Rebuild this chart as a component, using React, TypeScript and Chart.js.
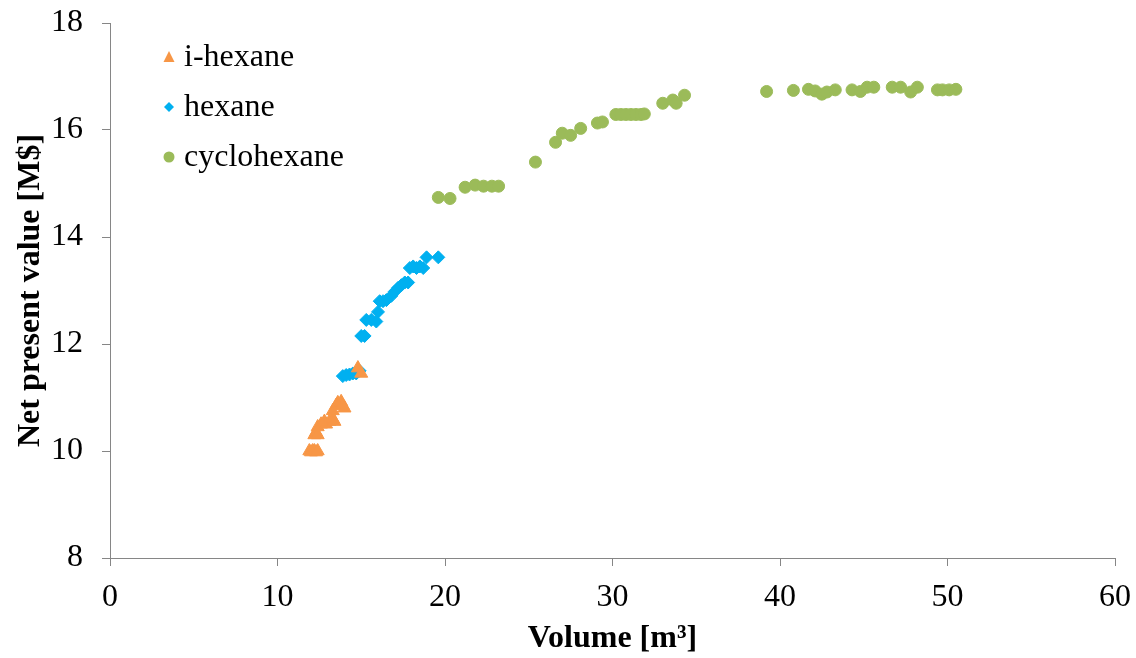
import React, { useEffect, useRef } from "react";
import { Chart, registerables } from "chart.js";

Chart.register(...registerables);

const seriesNames = ["i-hexane", "hexane", "cyclohexane"];
const seriesColors = ["#F79646", "#00B0F0", "#9BBB59"];

const iHexaneX = [11.9, 12.0, 12.1, 12.2, 12.3, 12.4, 12.2, 12.3, 12.4, 12.4, 12.6, 12.8, 12.9, 13.1, 13.3, 13.4, 13.3, 13.5, 13.6, 13.8, 13.9, 14.0, 14.8, 15.0];
const iHexaneY = [10.0, 9.98, 10.0, 10.0, 9.98, 10.0, 10.3, 10.35, 10.3, 10.45, 10.5, 10.55, 10.5, 10.55, 10.6, 10.55, 10.75, 10.85, 10.9, 10.92, 10.85, 10.8, 11.55, 11.45];

const hexaneX = [13.9, 14.1, 14.3, 14.5, 14.7, 14.9, 15.0, 15.2, 15.3, 15.6, 15.9, 16.0, 16.1, 16.3, 16.5, 16.8, 17.0, 17.2, 17.4, 17.6, 17.8, 17.9, 18.1, 18.3, 18.5, 18.7, 18.9, 19.6];
const hexaneY = [11.4, 11.42, 11.43, 11.45, 11.45, 11.5, 12.15, 12.15, 12.45, 12.45, 12.42, 12.6, 12.8, 12.8, 12.82, 12.9, 12.98, 13.05, 13.1, 13.15, 13.15, 13.42, 13.45, 13.42, 13.45, 13.42, 13.62, 13.62];

const cycloX = [19.6, 20.3, 21.2, 21.8, 22.3, 22.8, 23.2, 25.4, 26.6, 27.0, 27.5, 28.1, 29.1, 29.4, 30.2, 30.5, 30.8, 31.1, 31.4, 31.7, 31.9, 33.0, 33.6, 33.8, 34.3, 39.2, 40.8, 41.7, 42.1, 42.5, 42.8, 43.3, 44.3, 44.8, 45.2, 45.6, 46.7, 47.2, 47.8, 48.2, 49.4, 49.7, 50.1, 50.5];
const cycloY = [14.74, 14.72, 14.93, 14.97, 14.95, 14.95, 14.95, 15.4, 15.77, 15.94, 15.9, 16.03, 16.13, 16.15, 16.29, 16.29, 16.29, 16.29, 16.29, 16.29, 16.3, 16.5, 16.56, 16.5, 16.65, 16.72, 16.74, 16.76, 16.73, 16.67, 16.71, 16.75, 16.75, 16.72, 16.8, 16.8, 16.8, 16.8, 16.71, 16.8, 16.75, 16.75, 16.75, 16.76];

const xTicks = [0, 10, 20, 30, 40, 50, 60];
const yTicks = [8, 10, 12, 14, 16, 18];

const toPoints = (xs: number[], ys: number[]) => xs.map((x, i) => ({ x, y: ys[i] }));

const FONT = "'Liberation Serif', 'Times New Roman', serif";
const AXIS_COLOR = "#868686";
const FS = 32;

const legendPlugin = {
  id: "customLegend",
  afterDraw(chart: any) {
    const ctx = chart.ctx;
    const { left, top } = chart.chartArea;
    ctx.save();
    ctx.font = `${FS}px ${FONT}`;
    ctx.textBaseline = "middle";
    ctx.textAlign = "left";
    seriesNames.forEach((name, i) => {
      const cx = left + 59;
      const cy = top + 34 + i * 50;
      ctx.fillStyle = seriesColors[i];
      ctx.beginPath();
      if (i === 0) {
        ctx.moveTo(cx, cy - 6);
        ctx.lineTo(cx + 5.5, cy + 5);
        ctx.lineTo(cx - 5.5, cy + 5);
        ctx.closePath();
      } else if (i === 1) {
        ctx.moveTo(cx, cy - 5);
        ctx.lineTo(cx + 5, cy);
        ctx.lineTo(cx, cy + 5);
        ctx.lineTo(cx - 5, cy);
        ctx.closePath();
      } else {
        ctx.arc(cx, cy, 5.5, 0, Math.PI * 2);
      }
      ctx.fill();
      ctx.fillStyle = "#000";
      ctx.fillText(name, cx + 15, cy + 1);
    });
    ctx.restore();
  },
};

export default function App() {
  const canvasRef = useRef<HTMLCanvasElement | null>(null);

  useEffect(() => {
    if (!canvasRef.current) return;
    const chart = new Chart(canvasRef.current, {
      type: "scatter",
      data: {
        datasets: [
          {
            label: seriesNames[0],
            data: toPoints(iHexaneX, iHexaneY),
            pointStyle: "triangle",
            pointRadius: 7.5,
            backgroundColor: seriesColors[0],
            borderColor: seriesColors[0],
            borderWidth: 1,
          },
          {
            label: seriesNames[1],
            data: toPoints(hexaneX, hexaneY),
            pointStyle: "rectRot",
            pointRadius: 6.5,
            backgroundColor: seriesColors[1],
            borderColor: seriesColors[1],
            borderWidth: 1,
          },
          {
            label: seriesNames[2],
            data: toPoints(cycloX, cycloY),
            pointStyle: "circle",
            pointRadius: 6,
            backgroundColor: seriesColors[2],
            borderColor: seriesColors[2],
            borderWidth: 1,
          },
        ],
      },
      options: {
        responsive: false,
        animation: false,
        layout: { padding: { left: 0, right: 21, top: 23, bottom: 0 } },
        plugins: {
          legend: { display: false },
          tooltip: { enabled: false },
        },
        scales: {
          x: {
            type: "linear",
            min: 0,
            max: 60,
            afterBuildTicks: (scale: any) => {
              scale.ticks = xTicks.map((v) => ({ value: v }));
            },
            afterFit: (scale: any) => {
              scale.height = 100;
              scale.paddingLeft = 0;
              scale.paddingRight = 0;
            },
            grid: {
              drawOnChartArea: false,
              drawTicks: true,
              tickLength: 8,
              color: AXIS_COLOR,
              lineWidth: 1,
            },
            border: { display: true, color: AXIS_COLOR, width: 1 },
            ticks: {
              color: "#000",
              font: { family: FONT, size: FS },
              padding: 12,
              maxRotation: 0,
            },
            title: {
              display: true,
              text: "Volume [m³]",
              color: "#000",
              font: { family: FONT, size: FS, weight: "bold" },
              padding: { top: 0, bottom: 0 },
            },
          },
          y: {
            type: "linear",
            min: 8,
            max: 18,
            afterBuildTicks: (scale: any) => {
              scale.ticks = yTicks.map((v) => ({ value: v }));
            },
            afterFit: (scale: any) => {
              scale.width = 110;
              scale.paddingTop = 0;
              scale.paddingBottom = 0;
            },
            grid: {
              drawOnChartArea: false,
              drawTicks: true,
              tickLength: 8,
              color: AXIS_COLOR,
              lineWidth: 1,
            },
            border: { display: true, color: AXIS_COLOR, width: 1 },
            ticks: {
              color: "#000",
              font: { family: FONT, size: FS },
              padding: 19,
            },
            title: {
              display: true,
              text: "Net present value [M$]",
              color: "#000",
              font: { family: FONT, size: FS, weight: "bold" },
              padding: { top: 12, bottom: 0 },
            },
          },
        },
      },
      plugins: [legendPlugin],
    });
    return () => chart.destroy();
  }, []);

  return (
    <div style={{ position: "absolute", left: 0, top: 0, width: 1136, height: 658, background: "#fff" }}>
      <canvas ref={canvasRef} width={1136} height={658} />
    </div>
  );
}
